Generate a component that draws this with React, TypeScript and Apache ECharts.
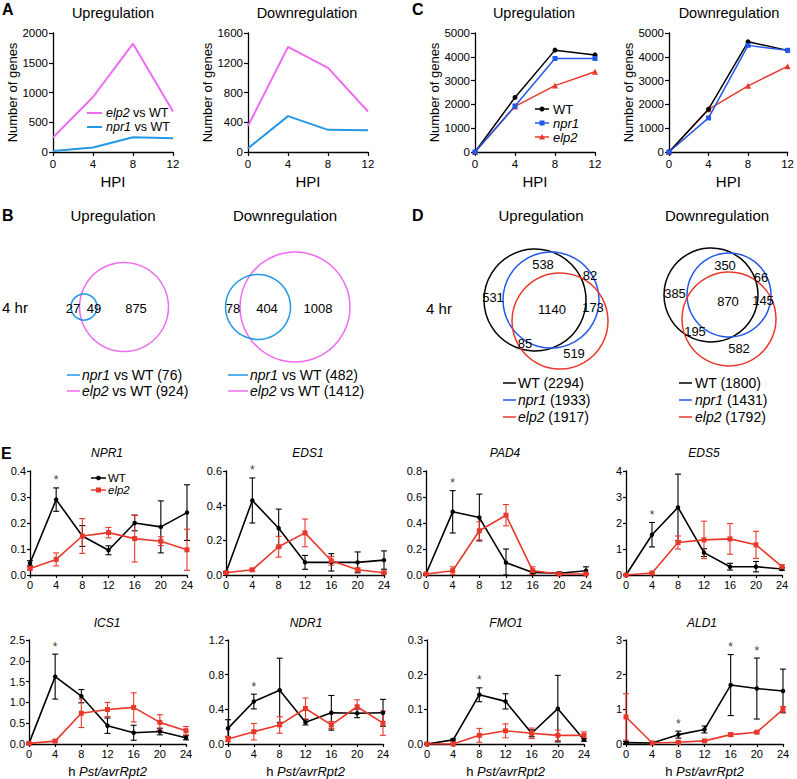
import React, { useEffect, useRef } from "react";
import * as echarts from "echarts";

const FONT = 'Arial, "Liberation Sans", Helvetica, sans-serif';
const BLACK = "#000000";
const PINK = "#EE6CEE";
const SKY = "#2399E6";
const BLUE = "#2258E8";
const RED = "#E8382C";

// ---------------- Panel A (number of genes, mutant vs WT) ----------------
const hpi = [0, 4, 8, 12];
const aUpElp2 = [245, 924, 1820, 680];
const aUpNpr1 = [18, 76, 247, 230];
const aDownElp2 = [350, 1412, 1132, 545];
const aDownNpr1 = [50, 482, 298, 293];

// ---------------- Panel C (number of genes per genotype) ----------------
const cUpWT = [0, 2294, 4280, 4080];
const cUpNpr1 = [0, 1933, 3930, 3930];
const cUpElp2 = [0, 1917, 2790, 3370];
const cDownWT = [0, 1800, 4630, 4270];
const cDownNpr1 = [0, 1431, 4480, 4270];
const cDownElp2 = [0, 1792, 2780, 3600];

// ---------------- Panel B (Venn, 4 hr) ----------------
const bUpRegions = [27, 49, 875];
const bUpTotals = [76, 924];
const bDownRegions = [78, 404, 1008];
const bDownTotals = [482, 1412];

// ---------------- Panel D (Venn, 4 hr) ----------------
const dUpRegions = [531, 538, 82, 1140, 173, 85, 519];
const dUpTotals = [2294, 1933, 1917];
const dDownRegions = [385, 350, 66, 870, 145, 195, 582];
const dDownTotals = [1800, 1431, 1792];

// ---------------- Panel E (qPCR time courses) ----------------
const hours = [0, 4, 8, 12, 16, 20, 24];

const NPR1_wt = [0.045, 0.29, 0.15, 0.095, 0.2, 0.185, 0.24];
const NPR1_wtErr = [0.01, 0.045, 0.04, 0.017, 0.03, 0.1, 0.107];
const NPR1_elp2 = [0.025, 0.06, 0.15, 0.163, 0.14, 0.13, 0.097];
const NPR1_elp2Err = [0.005, 0.025, 0.067, 0.02, 0.09, 0.017, 0.079];
const NPR1_stars = [4];

const EDS1_wt = [0.015, 0.43, 0.27, 0.073, 0.073, 0.073, 0.086];
const EDS1_wtErr = [0.005, 0.13, 0.11, 0.04, 0.05, 0.06, 0.053];
const EDS1_elp2 = [0.013, 0.03, 0.163, 0.243, 0.082, 0.03, 0.013];
const EDS1_elp2Err = [0.004, 0.008, 0.06, 0.08, 0.025, 0.01, 0.004];
const EDS1_stars = [4];

const PAD4_wt = [0.008, 0.486, 0.442, 0.095, 0.02, 0.013, 0.033];
const PAD4_wtErr = [0.004, 0.163, 0.18, 0.105, 0.01, 0.01, 0.03];
const PAD4_elp2 = [0.008, 0.033, 0.34, 0.46, 0.033, 0.008, 0.008];
const PAD4_elp2Err = [0.004, 0.03, 0.07, 0.082, 0.03, 0.004, 0.004];
const PAD4_stars = [4];

const EDS5_wt = [0, 1.55, 2.6, 0.86, 0.32, 0.32, 0.23];
const EDS5_wtErr = [0.02, 0.47, 1.28, 0.15, 0.13, 0.2, 0.05];
const EDS5_elp2 = [0, 0.077, 1.25, 1.35, 1.39, 1.16, 0.32];
const EDS5_elp2Err = [0.02, 0.03, 0.25, 0.72, 0.59, 0.52, 0.07];
const EDS5_stars = [4];

const ICS1_wt = [0.016, 1.62, 1.15, 0.44, 0.27, 0.3, 0.15];
const ICS1_wtErr = [0.01, 0.54, 0.16, 0.185, 0.18, 0.08, 0.05];
const ICS1_elp2 = [0.016, 0.07, 0.74, 0.83, 0.88, 0.52, 0.32];
const ICS1_elp2Err = [0.01, 0.03, 0.345, 0.17, 0.35, 0.185, 0.1];
const ICS1_stars = [4];

const NDR1_wt = [0.18, 0.49, 0.62, 0.25, 0.36, 0.354, 0.36];
const NDR1_wtErr = [0.1, 0.085, 0.37, 0.03, 0.2, 0.05, 0.155];
const NDR1_elp2 = [0.058, 0.142, 0.22, 0.41, 0.22, 0.43, 0.24];
const NDR1_elp2Err = [0.03, 0.095, 0.095, 0.12, 0.04, 0.08, 0.14];
const NDR1_stars = [4];

const FMO1_wt = [0, 0.012, 0.142, 0.123, 0.031, 0.102, 0.012];
const FMO1_wtErr = [0.002, 0.003, 0.02, 0.022, 0.01, 0.096, 0.004];
const FMO1_elp2 = [0, 0, 0.025, 0.038, 0.031, 0.025, 0.025];
const FMO1_elp2Err = [0.002, 0.002, 0.02, 0.02, 0.015, 0.015, 0.01];
const FMO1_stars = [8];

const ALD1_wt = [0.04, 0.03, 0.27, 0.42, 1.7, 1.6, 1.53];
const ALD1_wtErr = [0.03, 0.01, 0.1, 0.1, 0.88, 0.88, 0.63];
const ALD1_elp2 = [0.78, 0.03, 0.05, 0.09, 0.27, 0.34, 1.0];
const ALD1_elp2Err = [0.67, 0.01, 0.01, 0.01, 0.05, 0.03, 0.08];
const ALD1_stars = [8, 16, 20];

// ---------------- Layout (pixels) ----------------
const AC_GRIDS = [
  { left: 53, top: 33, width: 120, height: 119 },
  { left: 248, top: 33, width: 120, height: 119 },
  { left: 475, top: 33, width: 120, height: 119 },
  { left: 669, top: 33, width: 120, height: 119 },
];
const E_GRIDS = [
  { left: 30, top: 471, width: 157, height: 104 },
  { left: 226, top: 471, width: 158, height: 104 },
  { left: 426, top: 471, width: 160, height: 104 },
  { left: 626, top: 471, width: 156, height: 104 },
  { left: 29, top: 640, width: 157, height: 104 },
  { left: 228, top: 640, width: 155, height: 104 },
  { left: 427, top: 640, width: 157, height: 104 },
  { left: 626, top: 640, width: 157, height: 104 },
];
const E_TITLE_POS = [
  [107, 453], [308, 453], [505, 453], [704, 453],
  [107, 623], [306, 623], [506, 623], [702, 623],
];

function buildOption() {
  const grid: any[] = [];
  const xAxis: any[] = [];
  const yAxis: any[] = [];
  const series: any[] = [];
  const els: any[] = [];

  const axisCommon = (fs: number, margin: number) => ({
    axisLine: { show: true, onZero: false, lineStyle: { color: BLACK, width: 1.3 } },
    axisTick: { show: true, length: 4, lineStyle: { color: BLACK, width: 1.2 } },
    axisLabel: { show: true, color: BLACK, fontSize: fs, fontFamily: FONT, margin, formatter: (v: number) => String(v) },
    splitLine: { show: false },
  });

  const txt = (x: number, y: number, text: string, fontSize: number, extra: any = {}) => ({
    type: "text",
    x,
    y,
    silent: true,
    style: {
      text,
      fontSize,
      fontFamily: FONT,
      fill: BLACK,
      align: "center",
      verticalAlign: "middle",
      rich: {
        i: { fontStyle: "italic", fontSize, fontFamily: FONT, fill: BLACK },
      },
      ...extra,
    },
  });
  const seg = (x1: number, x2: number, y: number, color: string, w = 1.6) => ({
    type: "line",
    silent: true,
    shape: { x1, y1: y, x2, y2: y },
    style: { stroke: color, lineWidth: w },
  });
  const circ = (cx: number, cy: number, r: number, color: string, fill = "none", w = 1.5) => ({
    type: "circle",
    silent: true,
    shape: { cx, cy, r },
    style: { stroke: color, fill, lineWidth: w },
  });

  // ---------- A & C line charts ----------
  const acDefs = [
    { max: 2000, interval: 500, lines: [{ d: aUpElp2, c: PINK }, { d: aUpNpr1, c: SKY }], sym: false },
    { max: 1600, interval: 400, lines: [{ d: aDownElp2, c: PINK }, { d: aDownNpr1, c: SKY }], sym: false },
    {
      max: 5000, interval: 1000, sym: true,
      lines: [{ d: cUpWT, c: BLACK, s: "circle", z: 5 }, { d: cUpNpr1, c: BLUE, s: "rect", z: 6 }, { d: cUpElp2, c: RED, s: "triangle", z: 4 }],
    },
    {
      max: 5000, interval: 1000, sym: true,
      lines: [{ d: cDownWT, c: BLACK, s: "circle", z: 5 }, { d: cDownNpr1, c: BLUE, s: "rect", z: 6 }, { d: cDownElp2, c: RED, s: "triangle", z: 4 }],
    },
  ];
  acDefs.forEach((def, gi) => {
    grid.push({ ...AC_GRIDS[gi], containLabel: false });
    xAxis.push({
      gridIndex: gi, type: "value", min: 0, max: 12, interval: 4,
      name: "HPI", nameLocation: "middle", nameGap: 22,
      nameTextStyle: { fontSize: 15, fontFamily: FONT, color: BLACK },
      ...axisCommon(11.5, 6),
    });
    yAxis.push({
      gridIndex: gi, type: "value", min: 0, max: def.max, interval: def.interval,
      name: "Number of genes", nameLocation: "middle", nameGap: 34,
      nameTextStyle: { fontSize: 13, fontFamily: FONT, color: BLACK },
      ...axisCommon(11.5, 5),
    });
    def.lines.forEach((ln: any) => {
      series.push({
        type: "line",
        xAxisIndex: gi,
        yAxisIndex: gi,
        data: hpi.map((h, k) => [h, ln.d[k]]),
        symbol: def.sym ? ln.s : "none",
        symbolSize: ln.s === "triangle" ? 6 : 5,
        showSymbol: def.sym,
        z: ln.z || 3,
        lineStyle: { color: ln.c, width: def.sym ? 1.5 : 2 },
        itemStyle: { color: ln.c },
        silent: true,
      });
    });
  });

  // ---------- E time courses ----------
  const genes = [
    { name: "NPR1", max: 0.4, interval: 0.1, dec: 1, wt: NPR1_wt, wtE: NPR1_wtErr, el: NPR1_elp2, elE: NPR1_elp2Err, stars: NPR1_stars },
    { name: "EDS1", max: 0.6, interval: 0.2, dec: 1, wt: EDS1_wt, wtE: EDS1_wtErr, el: EDS1_elp2, elE: EDS1_elp2Err, stars: EDS1_stars },
    { name: "PAD4", max: 0.8, interval: 0.2, dec: 1, wt: PAD4_wt, wtE: PAD4_wtErr, el: PAD4_elp2, elE: PAD4_elp2Err, stars: PAD4_stars },
    { name: "EDS5", max: 4, interval: 1, dec: 0, wt: EDS5_wt, wtE: EDS5_wtErr, el: EDS5_elp2, elE: EDS5_elp2Err, stars: EDS5_stars },
    { name: "ICS1", max: 2.5, interval: 0.5, dec: 1, wt: ICS1_wt, wtE: ICS1_wtErr, el: ICS1_elp2, elE: ICS1_elp2Err, stars: ICS1_stars },
    { name: "NDR1", max: 1.2, interval: 0.4, dec: 1, wt: NDR1_wt, wtE: NDR1_wtErr, el: NDR1_elp2, elE: NDR1_elp2Err, stars: NDR1_stars },
    { name: "FMO1", max: 0.3, interval: 0.1, dec: 1, wt: FMO1_wt, wtE: FMO1_wtErr, el: FMO1_elp2, elE: FMO1_elp2Err, stars: FMO1_stars },
    { name: "ALD1", max: 3, interval: 1, dec: 0, wt: ALD1_wt, wtE: ALD1_wtErr, el: ALD1_elp2, elE: ALD1_elp2Err, stars: ALD1_stars },
  ];

  const errSeries = (gi: number, mean: number[], err: number[], color: string) => ({
    type: "custom",
    xAxisIndex: gi,
    yAxisIndex: gi,
    silent: true,
    z: 2,
    data: hours.map((h, k) => [h, Math.max(0, mean[k] - err[k]), mean[k] + err[k]]),
    encode: { x: 0, y: [1, 2] },
    renderItem: (params: any, api: any) => {
      const x = api.value(0);
      const pHi = api.coord([x, api.value(2)]);
      const pLo = api.coord([x, api.value(1)]);
      const w = 3;
      const st = { stroke: color, lineWidth: 1.1 };
      return {
        type: "group",
        children: [
          { type: "line", shape: { x1: pHi[0], y1: pHi[1], x2: pLo[0], y2: pLo[1] }, style: st },
          { type: "line", shape: { x1: pHi[0] - w, y1: pHi[1], x2: pHi[0] + w, y2: pHi[1] }, style: st },
          { type: "line", shape: { x1: pLo[0] - w, y1: pLo[1], x2: pLo[0] + w, y2: pLo[1] }, style: st },
        ],
      };
    },
  });

  genes.forEach((g, k) => {
    const gi = 4 + k;
    const row2 = k >= 4;
    grid.push({ ...E_GRIDS[k], containLabel: false });
    xAxis.push({
      gridIndex: gi, type: "value", min: 0, max: 24, interval: 4,
      name: row2 ? "h {i|Pst/avrRpt2}" : "",
      nameLocation: "middle", nameGap: 21,
      nameTextStyle: {
        fontSize: 13, fontFamily: FONT, color: BLACK,
        rich: { i: { fontStyle: "italic", fontSize: 13, fontFamily: FONT, color: BLACK } },
      },
      ...axisCommon(11, 4),
      axisTick: { show: true, length: 3, lineStyle: { color: BLACK, width: 1.2 } },
    });
    yAxis.push({
      gridIndex: gi, type: "value", min: 0, max: g.max, interval: g.interval,
      ...axisCommon(11, 4),
      axisTick: { show: true, length: 3, lineStyle: { color: BLACK, width: 1.2 } },
      axisLabel: {
        show: true, color: BLACK, fontSize: 11, fontFamily: FONT, margin: 4,
        formatter: (v: number) => v.toFixed(g.dec),
      },
    });
    series.push(errSeries(gi, g.wt, g.wtE, BLACK));
    series.push(errSeries(gi, g.el, g.elE, RED));
    series.push({
      type: "line", xAxisIndex: gi, yAxisIndex: gi, silent: true, z: 4,
      data: hours.map((h, j) => [h, g.wt[j]]),
      symbol: "circle", symbolSize: 4.5,
      lineStyle: { color: BLACK, width: 1.6 }, itemStyle: { color: BLACK },
    });
    series.push({
      type: "line", xAxisIndex: gi, yAxisIndex: gi, silent: true, z: 5,
      data: hours.map((h, j) => [h, g.el[j]]),
      symbol: "rect", symbolSize: 5,
      lineStyle: { color: RED, width: 1.6 }, itemStyle: { color: RED },
    });
    series.push({
      type: "scatter", xAxisIndex: gi, yAxisIndex: gi, silent: true, z: 6,
      data: g.stars.map((h) => {
        const j = hours.indexOf(h);
        return [h, Math.max(g.wt[j] + g.wtE[j], g.el[j] + g.elE[j])];
      }),
      symbolSize: 1,
      itemStyle: { color: "rgba(0,0,0,0)" },
      label: {
        show: true, position: "top", distance: 1, formatter: "*",
        fontSize: 12, fontFamily: FONT, color: BLACK,
      },
    });
    els.push(txt(E_TITLE_POS[k][0], E_TITLE_POS[k][1], `{i|${g.name}}`, 12));
  });

  // ---------- panel letters ----------
  const letterStyle = { fontWeight: "bold", align: "left" };
  els.push(txt(2, 9, "A", 16, letterStyle));
  els.push(txt(2, 215, "B", 16, letterStyle));
  els.push(txt(412, 9, "C", 16, letterStyle));
  els.push(txt(412, 215, "D", 16, letterStyle));
  els.push(txt(1, 453, "E", 16, letterStyle));

  // ---------- titles ----------
  els.push(txt(113, 13, "Upregulation", 14.5));
  els.push(txt(307, 13, "Downregulation", 14.5));
  els.push(txt(534, 13, "Upregulation", 14.5));
  els.push(txt(729, 13, "Downregulation", 14.5));
  els.push(txt(113, 215, "Upregulation", 15));
  els.push(txt(285, 215, "Downregulation", 15));
  els.push(txt(541, 215, "Upregulation", 15));
  els.push(txt(717, 215, "Downregulation", 15));

  // ---------- legends A ----------
  const L = { align: "left" };
  els.push(seg(87, 102, 113, PINK, 2));
  els.push(txt(106, 113, "{i|elp2} vs WT", 12.5, L));
  els.push(seg(87, 102, 127, SKY, 2));
  els.push(txt(106, 127, "{i|npr1} vs WT", 12.5, L));

  // ---------- legends C ----------
  const cLeg = [
    { y: 109, c: BLACK, t: "WT", m: "circle" },
    { y: 123, c: BLUE, t: "{i|npr1}", m: "rect" },
    { y: 137, c: RED, t: "{i|elp2}", m: "triangle" },
  ];
  cLeg.forEach((l) => {
    els.push(seg(535, 549, l.y, l.c, 1.5));
    if (l.m === "circle") els.push(circ(542, l.y, 2.5, l.c, l.c, 0));
    if (l.m === "rect") els.push({ type: "rect", silent: true, shape: { x: 539.5, y: l.y - 2.5, width: 5, height: 5 }, style: { fill: l.c } });
    if (l.m === "triangle") els.push({ type: "polygon", silent: true, shape: { points: [[542, l.y - 3], [545, l.y + 2.5], [539, l.y + 2.5]] }, style: { fill: l.c } });
    els.push(txt(553, l.y, l.t, 13, L));
  });

  // ---------- Venn B ----------
  els.push(txt(15, 307, "4 hr", 15));
  els.push(circ(124, 307, 44.5, PINK));
  els.push(circ(84, 307, 13, SKY));
  const bUpPos = [[73, 308], [94, 308], [136, 308]];
  bUpRegions.forEach((v, i) => els.push(txt(bUpPos[i][0], bUpPos[i][1], String(v), 13)));
  els.push(circ(295, 307, 55, PINK));
  els.push(circ(258, 307, 32.5, SKY));
  const bDownPos = [[233, 308], [267, 308], [318, 308]];
  bDownRegions.forEach((v, i) => els.push(txt(bDownPos[i][0], bDownPos[i][1], String(v), 13)));

  els.push(seg(67, 80, 375, SKY, 1.5));
  els.push(txt(82, 375, `{i|npr1} vs WT (${bUpTotals[0]})`, 14, L));
  els.push(seg(67, 80, 391, PINK, 1.5));
  els.push(txt(82, 391, `{i|elp2} vs WT (${bUpTotals[1]})`, 14, L));
  els.push(seg(228, 248, 375, SKY, 1.5));
  els.push(txt(250, 375, `{i|npr1} vs WT (${bDownTotals[0]})`, 14, L));
  els.push(seg(228, 248, 391, PINK, 1.5));
  els.push(txt(250, 391, `{i|elp2} vs WT (${bDownTotals[1]})`, 14, L));

  // ---------- Venn D ----------
  els.push(txt(439, 308, "4 hr", 15));
  els.push(circ(535, 300, 51, BLACK));
  els.push(circ(551, 300, 48, BLUE));
  els.push(circ(560, 321, 48, RED));
  const dUpPos = [[493, 297], [543, 264], [590, 275], [552, 309], [593, 307], [525, 343], [574, 353]];
  dUpRegions.forEach((v, i) => els.push(txt(dUpPos[i][0], dUpPos[i][1], String(v), 13)));
  els.push(circ(711, 295, 47, BLACK));
  els.push(circ(729, 295, 42, BLUE));
  els.push(circ(729, 319, 47, RED));
  const dDownPos = [[675, 293], [725, 265], [761, 277], [728, 301], [763, 300], [695, 331], [739, 348]];
  dDownRegions.forEach((v, i) => els.push(txt(dDownPos[i][0], dDownPos[i][1], String(v), 13)));

  const dNames = ["WT", "{i|npr1}", "{i|elp2}"];
  const dCols = [BLACK, BLUE, RED];
  const dRows = [383, 400, 417];
  dNames.forEach((n, i) => {
    els.push(seg(503, 516, dRows[i], dCols[i], 1.5));
    els.push(txt(518, dRows[i], `${n} (${dUpTotals[i]})`, 14, L));
    els.push(seg(679, 692, dRows[i], dCols[i], 1.5));
    els.push(txt(695, dRows[i], `${n} (${dDownTotals[i]})`, 14, L));
  });

  // ---------- legend E ----------
  const EL = { align: "left", lineHeight: 11 };
  els.push(seg(91, 106, 478, BLACK, 1.5));
  els.push(circ(98.5, 478, 2.3, BLACK, BLACK, 0));
  els.push(txt(108, 478, "WT", 11.5, EL));
  els.push(seg(91, 106, 490, RED, 1.5));
  els.push({ type: "rect", silent: true, shape: { x: 96, y: 487.5, width: 5, height: 5 }, style: { fill: RED } });
  els.push(txt(108, 490, "{i|elp2}", 11.5, { ...EL, rich: { i: { fontStyle: "italic", fontSize: 11.5, fontFamily: FONT, fill: BLACK, lineHeight: 11 } } }));

  return {
    animation: false,
    backgroundColor: "#ffffff",
    grid,
    xAxis,
    yAxis,
    series,
    graphic: { elements: els },
  };
}

export default function App() {
  const ref = useRef<HTMLDivElement>(null);
  useEffect(() => {
    const chart = echarts.init(ref.current as HTMLDivElement, null, { renderer: "svg" });
    chart.setOption(buildOption() as any);
    return () => chart.dispose();
  }, []);
  return (
    <div
      ref={ref}
      style={{ position: "absolute", left: 0, top: 0, width: 797, height: 779, background: "#fff" }}
    />
  );
}
